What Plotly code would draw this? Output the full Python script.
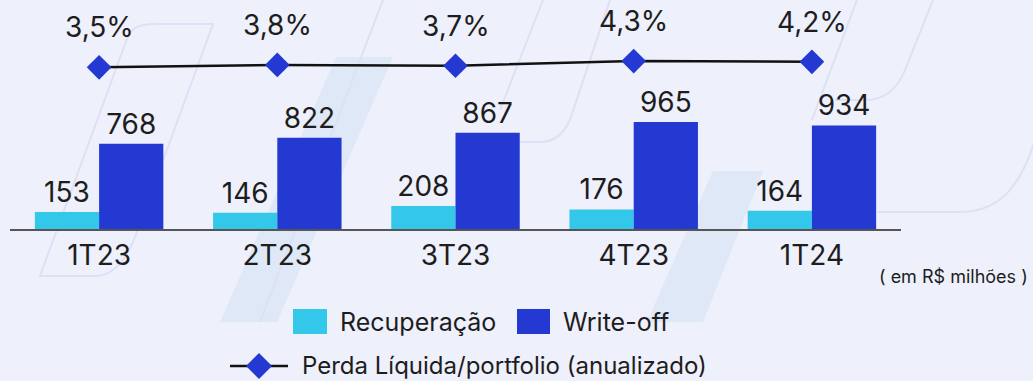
import plotly.graph_objects as go

# Quarterly figures (R$ millions) and annualised net loss ratio (%)
quarters = ["1T23", "2T23", "3T23", "4T23", "1T24"]
recuperacao = [153, 146, 208, 176, 164]
write_off = [768, 822, 867, 965, 934]
perda_pct = [3.5, 3.8, 3.7, 4.3, 4.2]

FONT = "Inter"
TEXT = "#1d1d1d"
CYAN = "#33C8EA"
BLUE = "#2339D1"
BG = "#EEF0FB"

W, H = 1033, 381
ML, MR, MT, MB = 10, 132, 0, 152
PW, PH = W - ML - MR, H - MT - MB


def paper(px, py):
    """Pixel position on the page -> paper coordinates."""
    return (px - ML) / PW, (H - MB - py) / PH


def path(points_cmds):
    out = []
    for cmd, *pts in points_cmds:
        coords = []
        for i in range(0, len(pts), 2):
            x, y = paper(pts[i], pts[i + 1])
            coords.append(f"{x:.5f},{y:.5f}")
        out.append(cmd + " " + " ".join(coords))
    return " ".join(out)


fig = go.Figure()

fig.add_trace(go.Bar(
    x=quarters, y=recuperacao, name="Recuperação",
    marker=dict(color=CYAN, line=dict(width=0)),
    text=[str(v) for v in recuperacao], textposition="outside",
    textfont=dict(family=FONT, size=28, color=TEXT), cliponaxis=False,
))
fig.add_trace(go.Bar(
    x=quarters, y=write_off, name="Write-off",
    marker=dict(color=BLUE, line=dict(width=0)),
    text=[str(v) for v in write_off], textposition="outside",
    textfont=dict(family=FONT, size=28, color=TEXT), cliponaxis=False,
))
fig.add_trace(go.Scatter(
    x=quarters, y=perda_pct, yaxis="y2", mode="lines+markers",
    name="Perda Líquida/portfolio (anualizado)",
    line=dict(color="#111111", width=2.5),
    marker=dict(symbol="diamond", size=19, color=BLUE),
    cliponaxis=False,
))

annotations = []
for q, v in zip(quarters, perda_pct):
    annotations.append(dict(
        x=q, y=v, xref="x", yref="y2", yshift=40, showarrow=False,
        text=f"{v:.1f}".replace(".", ",") + "%",
        font=dict(family=FONT, size=28, color=TEXT),
    ))

# unit note
ux, uy = paper(877, 276)
annotations.append(dict(x=ux, y=uy, xref="paper", yref="paper", xanchor="left",
                        yanchor="middle", showarrow=False, text="( em R$ milhões )",
                        font=dict(family=FONT, size=18, color=TEXT)))

shapes = []

# faint background brand strokes
stroke = dict(color="#DEE1F5", width=2)
fill_col = "#DEE8F7"
deco_fills = [
    [("M", 336, 57), ("L", 393, 57), ("L", 277, 322), ("L", 220, 322), ("Z",)],
    [("M", 713, 171), ("L", 763, 171), ("L", 703, 322), ("L", 647, 322), ("Z",)],
]
for p in deco_fills:
    shapes.append(dict(type="path", xref="paper", yref="paper", layer="below",
                       path=path(p), fillcolor=fill_col, line=dict(width=0)))
deco_lines = [
    [("M", 155, 24), ("L", 213, 24), ("L", 135, 237), ("Q", 120, 276, 95, 276),
     ("L", 40, 276), ("L", 128, 36), ("Q", 133, 24, 155, 24), ("Z",)],
    [("M", 383, 0), ("L", 260, 322)],
    [("M", 543, 0), ("L", 500, 110)],
    [("M", 610, 0), ("L", 570, 120), ("Q", 560, 142, 540, 142), ("L", 505, 142)],
    [("M", 857, 0), ("L", 812, 120)],
    [("M", 933, 0), ("L", 905, 70), ("Q", 893, 100, 865, 100), ("L", 835, 100)],
    [("M", 1036, 136), ("C", 1022, 185, 1000, 212, 960, 212), ("L", 877, 212)],
]
for p in deco_lines:
    shapes.append(dict(type="path", xref="paper", yref="paper", layer="below",
                       path=path(p), line=stroke))

# legend row 1: bar series swatches
legend_font = dict(family=FONT, size=25, color=TEXT)
for (x0, x1, color, label) in [(293, 327, CYAN, "Recuperação"), (517, 550, BLUE, "Write-off")]:
    a0, b0 = paper(x0, 309)
    a1, b1 = paper(x1, 334)
    shapes.append(dict(type="rect", xref="paper", yref="paper", x0=a0, x1=a1, y0=b1, y1=b0,
                       fillcolor=color, line=dict(width=0)))
    tx, ty = paper(x1 + 11, 322)
    annotations.append(dict(x=tx, y=ty, xref="paper", yref="paper", xanchor="left",
                            yanchor="middle", showarrow=False, text=label, font=legend_font))

# legend row 2: line + diamond
ROW2 = 366
lx0, ly = paper(230, ROW2)
lx1, _ = paper(288, ROW2)
shapes.append(dict(type="line", xref="paper", yref="paper", x0=lx0, x1=lx1, y0=ly, y1=ly,
                   line=dict(color="#111111", width=2.5)))
shapes.append(dict(type="path", xref="paper", yref="paper",
                   path=path([("M", 259, ROW2 - 13), ("L", 272, ROW2), ("L", 259, ROW2 + 13),
                              ("L", 246, ROW2), ("Z",)]),
                   fillcolor=BLUE, line=dict(width=0)))
tx, ty = paper(301, ROW2 - 1)
annotations.append(dict(x=tx, y=ty, xref="paper", yref="paper", xanchor="left",
                        yanchor="middle", showarrow=False, borderpad=0,
                        text="Perda Líquida/portfolio (anualizado)",
                        font=dict(family=FONT, size=24, color=TEXT)))

fig.update_layout(
    width=W, height=H,
    margin=dict(l=ML, r=MR, t=MT, b=MB),
    paper_bgcolor=BG, plot_bgcolor=BG,
    barmode="group", bargap=0.279, bargroupgap=0,
    showlegend=False,
    xaxis=dict(type="category", showline=True, linecolor="#555555", linewidth=2,
               ticks="", showgrid=False, zeroline=False,
               tickfont=dict(family=FONT, size=28, color=TEXT)),
    yaxis=dict(range=[0, 2065], visible=False, showgrid=False),
    yaxis2=dict(range=[-17.03, 12.05], overlaying="y", visible=False, showgrid=False),
    annotations=annotations,
    shapes=shapes,
)

fig.write_html("out.html")
